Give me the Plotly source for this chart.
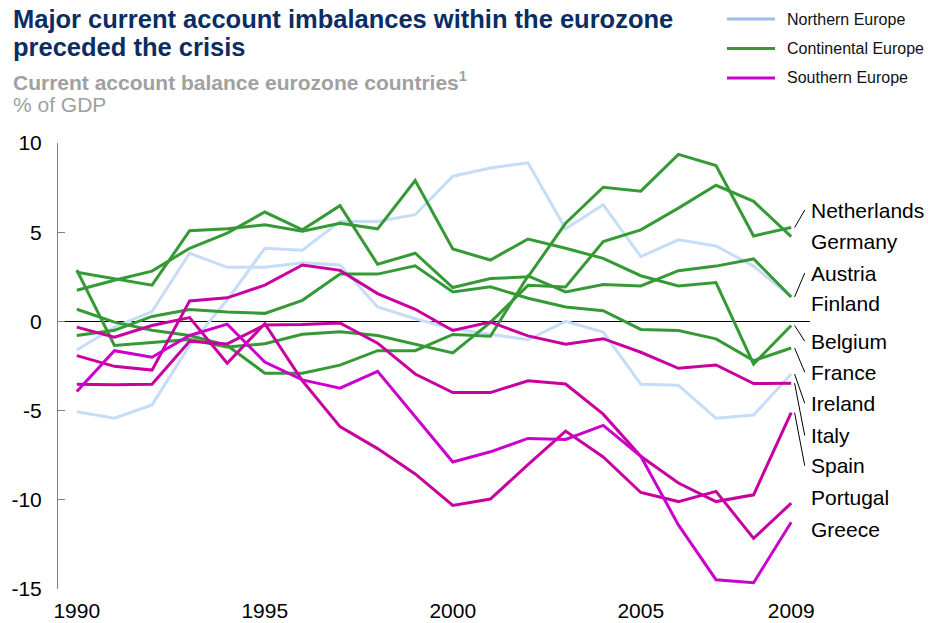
import plotly.graph_objects as go

# ---------------- data ----------------
years = list(range(1990, 2010))

netherlands = [1.75, 2.31, 2.82, 4.10, 4.95, 6.13, 5.13, 6.49, 3.20, 3.82,
               1.90, 2.40, 2.50, 5.50, 7.52, 7.30, 9.36, 8.74, 4.79, 5.26]
germany = [2.88, -1.35, -1.18, -1.02, -1.44, -1.25, -0.72, -0.58, -0.79, -1.26,
           -1.77, -0.05, 2.02, 1.93, 4.47, 5.13, 6.35, 7.63, 6.73, 4.75]
belgium = [2.75, 2.40, 2.03, 5.08, 5.19, 5.42, 5.05, 5.50, 5.19, 7.90,
           4.06, 3.44, 4.62, 4.10, 3.53, 2.56, 1.99, 2.18, -2.39, -0.23]
austria = [0.68, -0.04, -0.50, -0.79, -1.35, -2.90, -2.90, -2.45, -1.64, -1.64,
           -0.73, -0.83, 2.55, 1.65, 2.07, 1.99, 2.84, 3.10, 3.50, 1.37]
france = [-0.79, -0.50, 0.28, 0.67, 0.52, 0.45, 1.18, 2.65, 2.65, 3.12,
          1.65, 1.94, 1.30, 0.81, 0.60, -0.45, -0.51, -0.98, -2.20, -1.49]
finland = [-5.06, -5.43, -4.68, -1.35, 1.20, 4.10, 3.99, 5.60, 5.60, 5.98,
           8.14, 8.60, 8.89, 5.19, 6.54, 3.63, 4.57, 4.23, 3.10, 1.37]
ireland = [-1.60, -0.32, 0.55, 3.82, 3.03, 3.03, 3.29, 3.16, 0.81, 0.15,
           -0.41, -0.72, -1.03, 0.00, -0.60, -3.52, -3.58, -5.43, -5.25, -2.95]
italy = [-1.92, -2.52, -2.73, 1.15, 1.32, 2.03, 3.16, 2.86, 1.56, 0.68,
         -0.51, -0.04, -0.81, -1.28, -0.97, -1.73, -2.63, -2.44, -3.48, -3.46]
spain = [-3.52, -3.55, -3.52, -1.11, -1.26, -0.20, -0.17, -0.09, -1.22, -2.95,
         -3.99, -3.99, -3.33, -3.51, -5.20, -7.56, -9.06, -10.10, -9.72, -5.11]
portugal = [-0.32, -0.88, -0.23, 0.21, -2.35, -0.13, -3.33, -5.90, -7.13, -8.55,
            -10.32, -9.96, -8.03, -6.15, -7.60, -9.59, -10.10, -9.53, -12.16, -10.19]
greece = [-3.93, -1.64, -2.01, -0.79, -0.15, -2.28, -3.28, -3.74, -2.80, -5.36,
          -7.88, -7.31, -6.56, -6.62, -5.83, -7.56, -11.41, -14.48, -14.65, -11.26]

x_tick_years = [1990, 1995, 2000, 2005, 2009]
y_tick_values = [-15, -10, -5, 0, 5, 10]
y_tick_labels = ["-15", "-10", "-5", "0", "5", "10"]

regions = ["Northern Europe", "Continental Europe", "Southern Europe"]
northern = ["Finland", "Ireland"]
continental = ["Netherlands", "Germany", "Belgium", "Austria", "France"]
southern = ["Italy", "Spain", "Portugal", "Greece"]

series = {
    "Netherlands": netherlands, "Germany": germany, "Belgium": belgium,
    "Austria": austria, "France": france, "Finland": finland,
    "Ireland": ireland, "Italy": italy, "Spain": spain,
    "Portugal": portugal, "Greece": greece,
}

# order of the end labels (top to bottom) and their vertical positions
label_order = ["Netherlands", "Germany", "Austria", "Finland", "Belgium", "France",
               "Ireland", "Italy", "Spain", "Portugal", "Greece"]
label_y = [6.24, 4.46, 2.71, 0.99, -1.11, -2.85, -4.59, -6.40, -8.09, -9.87, -11.65]
with_leader = {"Netherlands", "Austria", "Belgium", "France", "Ireland", "Italy", "Spain"}

# ---------------- styles ----------------
FONT = "Liberation Sans, Arial, sans-serif"
NORTH_LINE = "#C6DDF7"
NORTH_LEG = "#9DBDF0"
GREEN = "#359A35"
MAG_DARK = "#C8009F"
MAG = "#CC00CC"
line_color = {c: NORTH_LINE for c in northern}
line_color.update({c: GREEN for c in continental})
line_color.update({"Italy": MAG_DARK, "Spain": MAG_DARK, "Portugal": MAG_DARK, "Greece": MAG})
legend_color = {"Northern Europe": NORTH_LEG, "Continental Europe": GREEN, "Southern Europe": MAG}

W, H = 928, 623
PL, PR, PT, PB = 58.0, 810.0, 143.0, 589.0


def px_x(px):
    return (px - PL) / (PR - PL)


def px_y(py):
    return (PB - py) / (PB - PT)


fig = go.Figure()
for country in northern + continental + southern:
    fig.add_trace(go.Scatter(
        x=years, y=series[country], mode="lines", name=country,
        line=dict(color=line_color[country], width=3),
        showlegend=False, hoverinfo="x+y+name"))

annotations = []
shapes = []

# end labels + leader lines
for name, ly in zip(label_order, label_y):
    annotations.append(dict(x=2009.47, y=ly, xref="x", yref="y", text=name,
                            showarrow=False, xanchor="left", yanchor="middle",
                            font=dict(family=FONT, size=21, color="#000000")))
    if name in with_leader:
        shapes.append(dict(type="line", xref="x", yref="y",
                           x0=2009.09, y0=series[name][-1], x1=2009.36, y1=ly,
                           line=dict(color="#000000", width=1)))

# manual legend
leg_py = [19, 48.5, 78]
for reg, py in zip(regions, leg_py):
    shapes.append(dict(type="line", xref="paper", yref="paper",
                       x0=px_x(727), x1=px_x(775), y0=px_y(py), y1=px_y(py),
                       line=dict(color=legend_color[reg], width=3)))
    annotations.append(dict(x=px_x(785), y=px_y(py), xref="paper", yref="paper",
                            text=reg, showarrow=False, xanchor="left", yanchor="middle",
                            font=dict(family=FONT, size=16, color="#111111")))

# titles
annotations += [
    dict(x=px_x(11), y=px_y(18.5), xref="paper", yref="paper", xanchor="left", yanchor="middle",
         text="<b>Major current account imbalances within the eurozone</b>", showarrow=False,
         font=dict(family=FONT, size=25.5, color="#0A2D64")),
    dict(x=px_x(11), y=px_y(47), xref="paper", yref="paper", xanchor="left", yanchor="middle",
         text="<b>preceded the crisis</b>", showarrow=False,
         font=dict(family=FONT, size=25.5, color="#0A2D64")),
    dict(x=px_x(11), y=px_y(80.5), xref="paper", yref="paper", xanchor="left", yanchor="middle",
         text="<b>Current account balance eurozone countries<sup>1</sup></b>", showarrow=False,
         font=dict(family=FONT, size=21, color="#A0A0A0")),
    dict(x=px_x(11), y=px_y(105), xref="paper", yref="paper", xanchor="left", yanchor="middle",
         text="% of GDP", showarrow=False,
         font=dict(family=FONT, size=21, color="#A0A0A0")),
]

fig.update_layout(
    width=W, height=H,
    margin=dict(l=PL, r=W - PR, t=PT, b=H - PB, pad=0, autoexpand=False),
    paper_bgcolor="white", plot_bgcolor="white",
    showlegend=False,
    font=dict(family=FONT, size=21, color="#000000"),
    annotations=annotations, shapes=shapes,
    xaxis=dict(range=[1989.5, 2009.5], tickvals=x_tick_years,
               ticktext=[str(v) for v in x_tick_years], automargin=False,
               showgrid=False, zeroline=False, showline=False, ticks="",
               ticklabelstandoff=7,
               tickfont=dict(family=FONT, size=21, color="#000000")),
    yaxis=dict(range=[-15, 10], tickvals=y_tick_values, ticktext=y_tick_labels,
               automargin=False,
               showgrid=False, zeroline=True, zerolinecolor="#000000", zerolinewidth=1,
               showline=True, linecolor="#808080", linewidth=1,
               ticks="inside", ticklen=7, tickcolor="#808080", tickwidth=1,
               ticklabelstandoff=11,
               tickfont=dict(family=FONT, size=21, color="#000000")),
)

fig.write_html("out.html", config={"displayModeBar": False},
               post_script="document.body.style.margin='0';document.body.style.overflow='hidden';")
